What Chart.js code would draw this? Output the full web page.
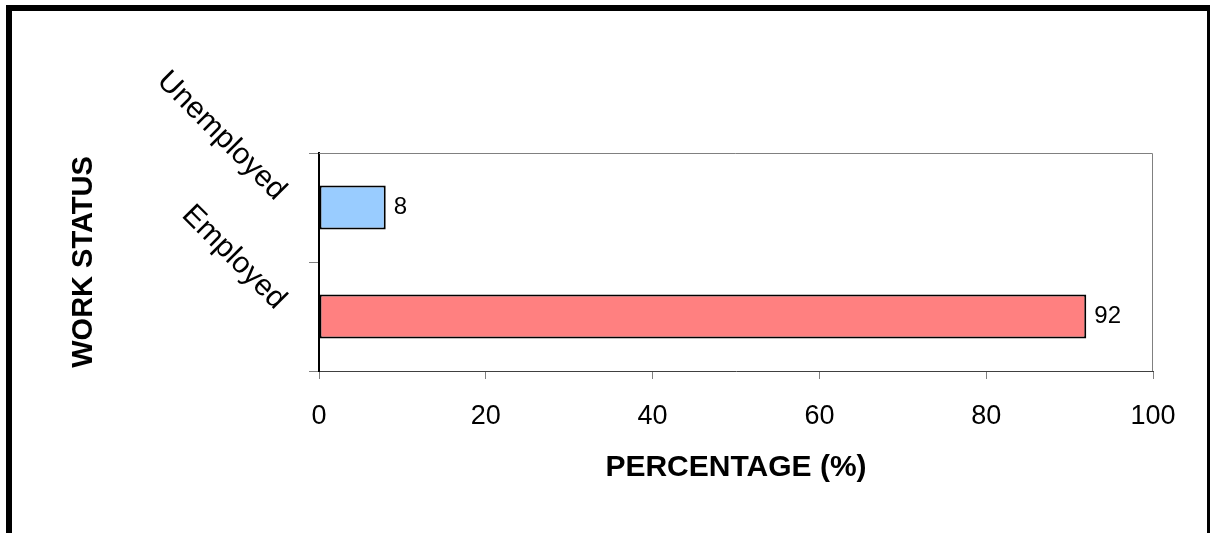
<!DOCTYPE html>
<html lang="en">
<head>
    <meta charset="UTF-8">
    <title>Work Status</title>
    <style>
        body {
            margin: 0;
            background: #ffffff;
            width: 1210px;
            height: 533px;
            overflow: hidden;
            position: relative;
            font-family: 'Liberation Sans', Arial, sans-serif;
        }
        #frame {
            position: absolute;
            left: 6px;
            top: 5px;
            width: 1207px;
            height: 600px;
            box-sizing: border-box;
            border: 6px solid #000000;
            pointer-events: none;
        }
        #chart {
            position: absolute;
            left: 0;
            top: 0;
        }
    </style>
    <script src="https://cdn.jsdelivr.net/npm/chart.js"></script>
</head>
<body>
    <canvas id="chart" width="1210" height="533"></canvas>
    <div id="frame"></div>

    <script>
        // chart data
        const categories = ['Unemployed', 'Employed'];
        const percentages = [8, 92];
        const barColors = ['#99CCFF', '#FF8080'];
        const xTicks = [0, 20, 40, 60, 80, 100];

        const FONT = "'Liberation Sans', Arial, sans-serif";

        // grey frame round the plot area + value labels
        const plotExtras = {
            id: 'plotExtras',
            afterDatasetsDraw(chart) {
                const { ctx, chartArea: a } = chart;
                ctx.save();
                ctx.strokeStyle = '#808080';
                ctx.lineWidth = 1;
                ctx.beginPath();
                ctx.moveTo(a.left, a.top + 0.5);
                ctx.lineTo(a.right - 0.5, a.top + 0.5);
                ctx.lineTo(a.right - 0.5, a.bottom);
                ctx.stroke();

                ctx.fillStyle = '#000000';
                ctx.font = '24px ' + FONT;
                ctx.textAlign = 'left';
                ctx.textBaseline = 'middle';
                const meta = chart.getDatasetMeta(0);
                meta.data.forEach((bar, i) => {
                    ctx.fillText(String(percentages[i]), bar.x + 8, bar.y);
                });
                ctx.restore();
            }
        };

        new Chart(document.getElementById('chart').getContext('2d'), {
            type: 'bar',
            data: {
                labels: categories,
                datasets: [{
                    data: percentages,
                    backgroundColor: barColors,
                    borderColor: '#000000',
                    borderWidth: 2,
                    borderSkipped: false,
                    barPercentage: 0.404,
                    categoryPercentage: 1.0
                }]
            },
            options: {
                indexAxis: 'y',
                responsive: false,
                animation: false,
                devicePixelRatio: 1,
                layout: { padding: { left: 0, top: 153, right: 57, bottom: 0 } },
                plugins: {
                    legend: { display: false },
                    tooltip: { enabled: false }
                },
                scales: {
                    x: {
                        min: 0,
                        max: 100,
                        afterBuildTicks: (scale) => {
                            scale.ticks = xTicks.map(v => ({ value: v }));
                        },
                        afterFit: (scale) => { scale.height = 162; },
                        grid: {
                            drawOnChartArea: false,
                            color: '#808080',
                            tickLength: 8
                        },
                        border: { color: '#404040', width: 1 },
                        ticks: {
                            color: '#000000',
                            font: { family: FONT, size: 27 },
                            padding: 21,
                            maxRotation: 0
                        },
                        title: {
                            display: true,
                            text: 'PERCENTAGE (%)',
                            color: '#000000',
                            font: { family: FONT, size: 30, weight: 'bold' },
                            padding: { top: 0, bottom: 47 }
                        }
                    },
                    y: {
                        afterFit: (scale) => { scale.width = 319; },
                        grid: {
                            offset: true,
                            drawOnChartArea: false,
                            color: '#808080',
                            tickLength: 10
                        },
                        border: { color: '#000000', width: 2 },
                        ticks: {
                            color: '#000000',
                            font: { family: FONT, size: 30 },
                            padding: 28,
                            labelOffset: -12,
                            minRotation: -45,
                            maxRotation: -45
                        },
                        title: {
                            display: true,
                            text: 'WORK STATUS',
                            color: '#000000',
                            font: { family: FONT, size: 29, weight: 'bold' },
                            padding: { top: 67, bottom: 0 }
                        }
                    }
                }
            },
            plugins: [plotExtras]
        });
    </script>
</body>
</html>
